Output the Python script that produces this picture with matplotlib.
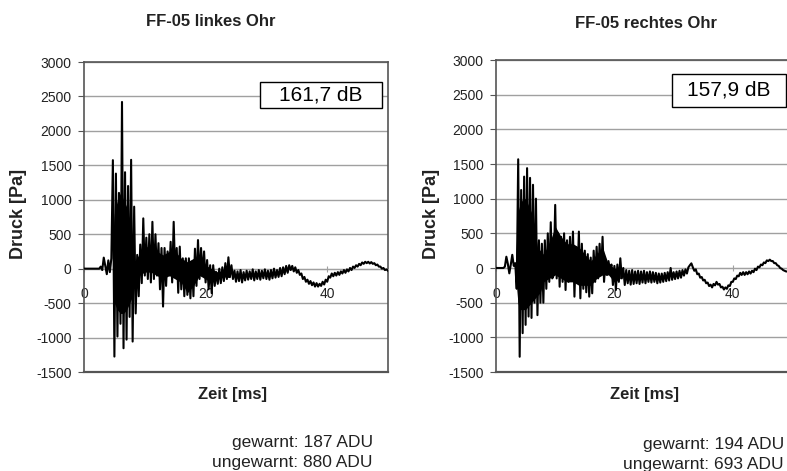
import matplotlib
matplotlib.use("Agg")
import matplotlib.pyplot as plt
from matplotlib.patches import Rectangle
import numpy as np

plt.rcParams['font.family'] = ['Liberation Sans', 'DejaVu Sans']
plt.rcParams['axes.unicode_minus'] = False

# pressure samples, one value every 0.25 ms (0 .. 50 ms)
dt = 0.25
p_links = [
    0, 0, 0, 0, 0, 0, 0, 0, 0, 0, 0,
    30, -20, 160, 40, -80, 120, -50, 150,
    1575, -1276, 1380, -985, 1100, -800, 2420, -1155, 1400, -1030, 1200, -700,
    1580, -1058, 900, -650,
    200, -400, 350, -210, 730, -100, 450, -150, 500, -200, 680, -150, 500, -100,
    370, -300, 300, -550, 300, -250, 250, -100, 390, -200, 680, -100, 300, -350,
    320, -300, 150, -400, 150, -380, 150, -430, 100, -400, 290, -250, 415, -150,
    300, -100, 250, -200, 125, -300, 50, -355, 50, -250, -50, -220, 0, -210,
    20, -180, 80, -150, 165, -120, 50, -150,
    -30, -190, -40, -180, -20, -200, -50, -170, -30, -160, -40, -150, -10, -170,
    -40, -150, -20, -160, -30, -140, -10, -150, -30, -160, -20, -140, 0, -130,
    -20, -120, 10, -110, 20, -80, 40, -60, 50, -20, 40, -40, 20, -60, -20, -90,
    -70, -150, -120, -190, -160, -220, -180, -240, -200, -260, -210, -260, -220,
    -250, -190, -230, -160, -190, -110, -130, -70, -110, -60, -100, -50, -90, -40,
    -70, -20, -60, -10, -40, 10, -20, 30, 10, 50, 30, 70, 50, 90, 70, 100, 80, 100,
    75, 95, 70, 80, 50, 60, 30, 30, 0, 10, -20, -10, -30,
]
p_rechts = [
    0, 0, 0, 0, 0, 0,
    20, 163, 60, -77, 50, 190, 30, 70,
    -300, 1568, -1280, 1125, -940, 1318, -820, 1440, -700, 1300, -720, 1200,
    -500, 1000, -680, 400, -500, 350, -500, 400, -300, 500, -200, 660, -150,
    -100, 910, -150, 500, -270, 450, -200, 500, -317, 400, -200, 450, -150, 525,
    -413, 300, -200, 525, -437, 350, -300, 250, -350, 200, -413, 150, -365, 250,
    -200, 307, -150, 350, -100, 450, -200, 115, -100, 100, -30, 50, -245, 30,
    -317, 50, -200, 140, -150, 0, -245, -30, -220, -40, -240, -30, -230, -50,
    -220, -40, -230, -50, -210, -40, -220, -60, -200, -50, -210, -60, -200, -70,
    -220, -80, -210, -80, -200, -70, -190, -60, -180, 0, -170, -60, -160, -50,
    -150, -40, -140, -30, -110, -20, -80, 10, 40, 67, 10, -40, -20, -90, -80,
    -140, -130, -180, -170, -220, -210, -260, -240, -280, -230, -250, -200, -240,
    -230, -280, -270, -310, -280, -300, -250, -260, -200, -200, -150, -160, -110,
    -120, -70, -100, -60, -100, -60, -90, -50, -80, -40, -60, -10, -30, 20, 10,
    50, 40, 80, 70, 110, 100, 120, 100, 100, 70, 70, 40, 30, 0, -10, -30, -40,
    -50, -50, -60,
]

# solid black core of the dense oscillation (upper / lower edge of the filled area)
kern_t_links = [4.7, 5.0, 5.5, 6.0, 6.5, 7.0, 7.5, 8.0, 8.3, 9, 10, 11, 12, 13,
                14, 15, 16, 17, 18, 19, 20, 21, 22, 23, 24]
kern_hi_links = [300, 800, 1000, 1100, 1000, 900, 700, 400, 100, 200, 300, 350,
                 250, 200, 250, 250, 150, 100, 150, 150, 50, 0, -50, -20, 0]
kern_lo_links = [-200, -500, -600, -650, -650, -600, -500, -400, -150, -100, -50,
                 -50, -100, -150, -100, -150, -200, -350, -250, -100, -150, -200,
                 -150, -120, -130]
kern_t_rechts = [3.3, 3.7, 4.0, 4.5, 5.0, 5.5, 6.0, 6.5, 7.0, 7.5, 8, 9, 10, 11,
                 12, 13, 14, 15, 16, 17, 18, 19, 20, 21]
kern_hi_rechts = [100, 800, 900, 1000, 1000, 900, 800, 600, 300, 250, 200, 350,
                  600, 450, 350, 350, 300, 200, 100, 200, 300, 50, 0, -30]
kern_lo_rechts = [-100, -500, -600, -600, -600, -550, -500, -450, -400, -350,
                  -200, -150, -100, -150, -200, -200, -250, -250, -250, -150,
                  -100, -100, -200, -150]

titles = ["FF-05 linkes Ohr", "FF-05 rechtes Ohr"]
pegel = ["161,7 dB", "157,9 dB"]
adu_gewarnt = [187, 194]
adu_ungewarnt = [880, 693]
yticks = [-1500, -1000, -500, 0, 500, 1000, 1500, 2000, 2500, 3000]
xticks = [0, 20, 40]

W, H = 787, 471
fig = plt.figure(figsize=(W / 100, H / 100), dpi=100, facecolor="white")

# panel geometry in pixels: left, right, top, bottom of the plot box
boxes = [(84, 388, 62, 372), (496, 792, 60, 372)]
dbbox = [(260, 382, 82, 108), (672, 786, 74, 107)]
title_xy = [(211, 21), (646, 23)]
ylab_x = [19, 431]
xlab_x = [233, 645]
note_x = [373, 784]
note_y = [(443, 463), (445, 465)]

spine_c = "#555555"
grid_c = "#a0a0a0"
text_c = "#222222"

series = [(p_links, kern_t_links, kern_hi_links, kern_lo_links),
          (p_rechts, kern_t_rechts, kern_hi_rechts, kern_lo_rechts)]

for k, (p, kt, khi, klo) in enumerate(series):
    l, r, t, b = boxes[k]
    ax = fig.add_axes([l / W, (H - b) / H, (r - l) / W, (b - t) / H])
    tt = np.arange(len(p)) * dt
    ax.fill_between(kt, klo, khi, color="black", linewidth=0, zorder=3)
    ax.plot(tt, p, color="black", linewidth=1.5, zorder=3,
            solid_joinstyle="round")

    ax.set_xlim(0, 50)
    ax.set_ylim(-1500, 3000)
    ax.set_yticks(yticks)
    ax.set_xticks(xticks)
    ax.grid(axis="y", color=grid_c, linewidth=1.0, zorder=0)
    ax.set_axisbelow(True)

    for s in ["left", "top", "right"]:
        ax.spines[s].set_color(spine_c)
        ax.spines[s].set_linewidth(1.2)
    ax.spines["bottom"].set_position(("data", 0))
    ax.spines["bottom"].set_color(grid_c)
    ax.axhline(-1500, color=spine_c, linewidth=1.6, clip_on=False, zorder=4)

    ax.tick_params(axis="y", length=4, pad=5, colors=spine_c, labelcolor=text_c,
                   labelsize=10)
    ax.tick_params(axis="x", direction="inout", length=5, pad=11, colors=grid_c,
                   labelcolor=text_c, labelsize=10)

    ax.set_ylabel("Druck [Pa]", fontsize=13, fontweight="bold", color=text_c)
    ax.yaxis.set_label_coords((ylab_x[k] - l) / (r - l), (b - 214) / (b - t))
    ax.yaxis.label.set_verticalalignment("center")
    ax.set_xlabel("Zeit [ms]", fontsize=12, fontweight="bold", color=text_c)
    ax.xaxis.set_label_coords((xlab_x[k] - l) / (r - l), (b - 395) / (b - t))
    ax.xaxis.label.set_verticalalignment("center")

    # level box
    x0, x1, y0, y1 = dbbox[k]
    ax.add_patch(Rectangle(((x0 - l) / (r - l), (b - y1) / (b - t)),
                           (x1 - x0) / (r - l), (y1 - y0) / (b - t),
                           transform=ax.transAxes, facecolor="white",
                           edgecolor="black", linewidth=1.0, zorder=5,
                           clip_on=False))
    ax.text(((x0 + x1) / 2 - l) / (r - l), (b - (y0 + y1) / 2) / (b - t),
            pegel[k], transform=ax.transAxes, ha="center", va="center",
            fontsize=15, color="black", zorder=6)

    fig.text(title_xy[k][0] / W, 1 - title_xy[k][1] / H, titles[k],
             ha="center", va="center", fontsize=12, fontweight="bold",
             color=text_c)
    fig.text(note_x[k] / W, 1 - note_y[k][0] / H,
             f"gewarnt: {adu_gewarnt[k]} ADU", ha="right", va="center",
             fontsize=12.5, color=text_c)
    fig.text(note_x[k] / W, 1 - note_y[k][1] / H,
             f"ungewarnt: {adu_ungewarnt[k]} ADU", ha="right", va="center",
             fontsize=12.5, color=text_c)

fig.savefig("out.png", dpi=100, facecolor="white")
